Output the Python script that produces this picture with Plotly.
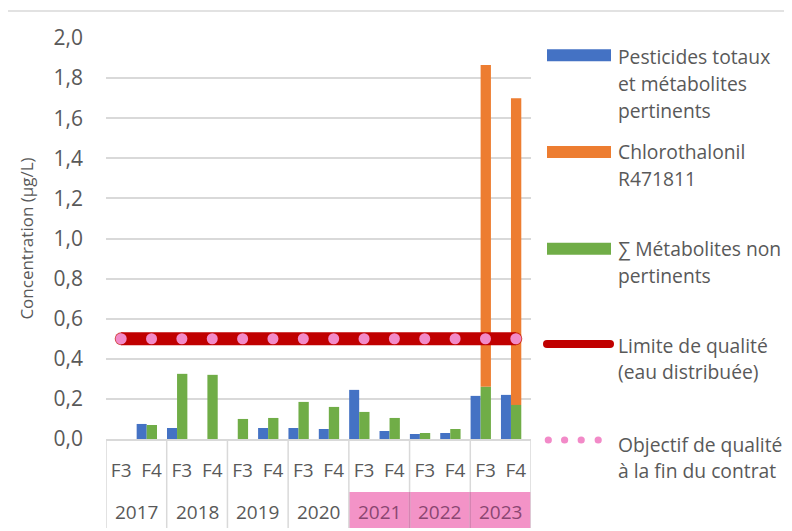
import plotly.graph_objects as go

# ---------------- data ----------------
years = ["2017", "2018", "2019", "2020", "2021", "2022", "2023"]
campaigns = ["F3", "F4"]
x_keys = [f"{y} {c}" for y in years for c in campaigns]
x_camp = [c for _ in years for c in campaigns]

pesticides_totaux = [None, 0.075, 0.055, None, None, 0.055, 0.055, 0.05, 0.245, 0.04, 0.025, 0.03, 0.215, 0.22]
metabolites_non_pertinents = [None, 0.07, 0.325, 0.32, 0.10, 0.105, 0.185, 0.16, 0.135, 0.105, 0.03, 0.05, 0.26, 0.17]
chlorothalonil_r471811 = [None] * 12 + [1.605, 1.53]
limite_qualite = [0.5] * 14
objectif_qualite = [0.5] * 14

y_ticks = [0, 0.2, 0.4, 0.6, 0.8, 1.0, 1.2, 1.4, 1.6, 1.8, 2.0]
highlight_years = ["2021", "2022", "2023"]

legend_labels = [
    ["Pesticides totaux", "et métabolites", "pertinents"],
    ["Chlorothalonil", "R471811"],
    ["∑ Métabolites non", "pertinents"],
    ["Limite de qualité", "(eau distribuée)"],
    ["Objectif de qualité", "à la fin du contrat"],
]

# ---------------- style ----------------
BLUE = "#4472C4"
ORANGE = "#ED7D31"
GREEN = "#70AD47"
RED = "#C00000"
PINK_DOT = "#F28AC8"
PINK_FILL = "#F393C7"
PINK_TXT = "#8A4671"
PINK_LINE = "#D684B2"
TXT = "#595959"
GRID = "#D9D9D9"
FONT = "Open Sans"

OFF = 8  # page body margin
W, H = 792, 531
PW, PH = 425, 401
ML, MT = 106 - OFF, 38 - OFF
MR = W - ML - PW
MB = H - MT - PH


def px(xp):
    return (xp - OFF - ML) / PW


def py(yp):
    return 1 - (yp - OFF - MT) / PH


fig = go.Figure()

fig.add_trace(go.Bar(x=x_keys, y=pesticides_totaux, offset=-0.49, width=0.33,
                     marker=dict(color=BLUE, line=dict(width=0)), showlegend=False))
fig.add_trace(go.Bar(x=x_keys, y=chlorothalonil_r471811, base=metabolites_non_pertinents,
                     offset=-0.16, width=0.34,
                     marker=dict(color=ORANGE, line=dict(width=0)), showlegend=False))
fig.add_trace(go.Bar(x=x_keys, y=metabolites_non_pertinents, offset=-0.16, width=0.34,
                     marker=dict(color=GREEN, line=dict(width=0)), showlegend=False))

n = len(limite_qualite)
fig.add_trace(go.Scatter(x=x_keys, y=limite_qualite, mode="lines+markers",
                         line=dict(color=RED, width=13), cliponaxis=False,
                         marker=dict(color=RED, size=[13] + [0] * (n - 2) + [13], line=dict(width=0)),
                         showlegend=False))
fig.add_trace(go.Scatter(x=x_keys, y=objectif_qualite, mode="markers", cliponaxis=False,
                         marker=dict(color=PINK_DOT, size=11, line=dict(width=0)),
                         showlegend=False))

shapes = []
annotations = []
# outer chart border
shapes.append(dict(type="rect", xref="paper", yref="paper",
                   x0=px(7), x1=px(830), y0=py(570), y1=py(11),
                   line=dict(color=GRID, width=1.5), fillcolor="rgba(0,0,0,0)", layer="below"))
# pink highlight behind recent years
i0 = years.index(highlight_years[0]) * len(campaigns) - 0.5
i1 = years.index(highlight_years[-1]) * len(campaigns) + len(campaigns) - 0.5
shapes.append(dict(type="rect", xref="x", yref="paper", x0=i0, x1=i1,
                   y0=py(528), y1=py(492), fillcolor=PINK_FILL, line=dict(width=0), layer="below"))
# year group dividers and labels
for i, yr in enumerate(years + [None]):
    xb = i * len(campaigns) - 0.5
    shapes.append(dict(type="line", xref="x", yref="paper", x0=xb, x1=xb,
                       y0=py(439), y1=py(528), line=dict(color=GRID, width=1.5)))
    if i0 < xb < i1:
        shapes.append(dict(type="line", xref="x", yref="paper", x0=xb, x1=xb,
                           y0=py(492), y1=py(528), line=dict(color=PINK_LINE, width=1.5)))
    if yr is not None:
        col = PINK_TXT if yr in highlight_years else TXT
        annotations.append(dict(x=xb + len(campaigns) / 2, y=py(512), xref="x", yref="paper",
                                xanchor="center", yanchor="middle", showarrow=False, text=yr,
                                font=dict(family=FONT, size=19, color=col)))

# legend (drawn manually)
sym_y = [55.3, 152, 248.7, 344, 440]
for yy, col in zip(sym_y[:3], [BLUE, ORANGE, GREEN]):
    shapes.append(dict(type="rect", xref="paper", yref="paper",
                       x0=px(547), x1=px(611), y0=py(yy + 6), y1=py(yy - 6),
                       fillcolor=col, line=dict(width=0)))
shapes.append(dict(type="line", xref="paper", yref="paper",
                   x0=px(547), x1=px(610), y0=py(sym_y[3]), y1=py(sym_y[3]),
                   line=dict(color=RED, width=8)))
for cx in (543, 606):
    shapes.append(dict(type="circle", xref="paper", yref="paper",
                       x0=px(cx), x1=px(cx + 8), y0=py(sym_y[3] + 4), y1=py(sym_y[3] - 4),
                       fillcolor=RED, line=dict(width=0)))
for cx in (548.3, 564.6, 581.2, 598.2):
    shapes.append(dict(type="circle", xref="paper", yref="paper",
                       x0=px(cx - 3.6), x1=px(cx + 3.6), y0=py(440 + 3.6), y1=py(440 - 3.6),
                       fillcolor=PINK_DOT, line=dict(width=0)))

text_first = [56.7, 151.7, 248.3, 345, 444]
LINE_H = 26.7
for y0, lines in zip(text_first, legend_labels):
    for k, line in enumerate(lines):
        annotations.append(dict(x=px(616), y=py(y0 + k * LINE_H), xref="paper", yref="paper",
                                xanchor="left", yanchor="middle", align="left", showarrow=False,
                                text=line, font=dict(family=FONT, size=19.3, color=TXT)))

fig.update_layout(
    width=W, height=H,
    margin=dict(l=ML, r=MR, t=MT, b=MB, pad=0),
    paper_bgcolor="white", plot_bgcolor="white",
    barmode="overlay",
    separators=", ",
    font=dict(family=FONT, size=20, color=TXT),
    shapes=shapes,
    annotations=annotations,
    showlegend=False,
    xaxis=dict(type="category", range=[-0.5, len(x_keys) - 0.5], tickvals=x_keys, ticktext=x_camp,
               showline=True, linecolor=GRID, linewidth=1.5, showgrid=False, automargin=False,
               tickangle=0, tickfont=dict(family=FONT, size=19, color=TXT), ticks="",
               ticklabelstandoff=13),
    yaxis=dict(range=[0, 2.0], tickvals=y_ticks, tickformat=".1f", showgrid=True, gridcolor=GRID,
               gridwidth=1.5, zeroline=False, showline=False, ticks="", ticklabelstandoff=22,
               automargin=False,
               tickfont=dict(family=FONT, size=21, color=TXT),
               title=dict(text="Concentration (µg/L)", standoff=15,
                          font=dict(family=FONT, size=17, color=TXT))),
)

fig.write_html("out.html")
